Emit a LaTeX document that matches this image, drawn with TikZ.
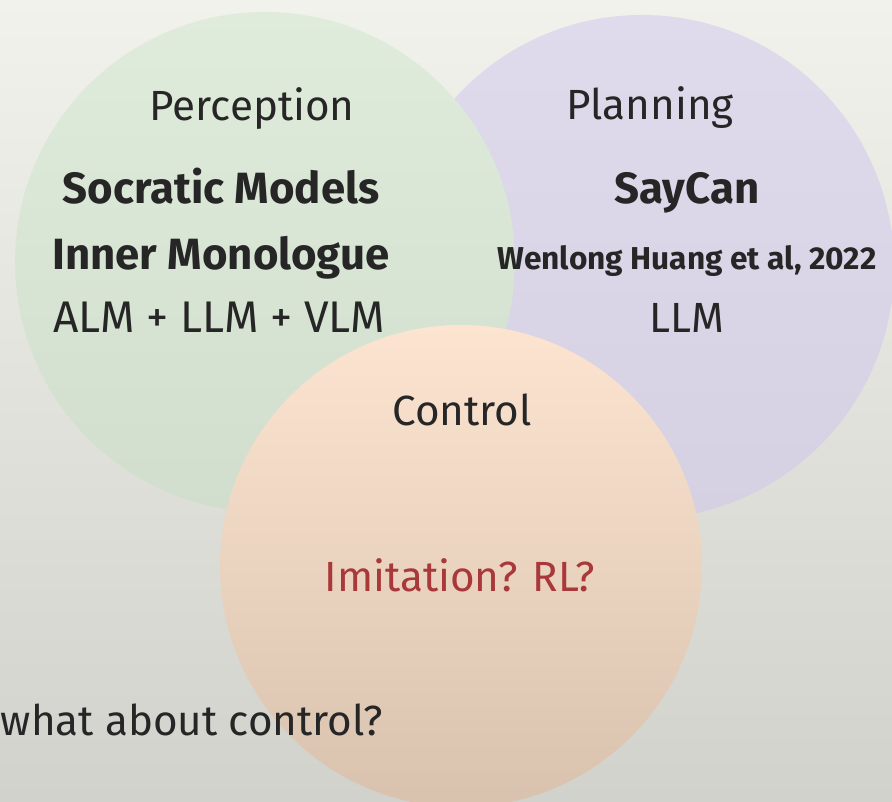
\documentclass[tikz,border=0pt]{standalone}
\usepackage{fontspec}
\setmainfont{Fira Sans}
\usetikzlibrary{positioning}

\definecolor{bgtop}{HTML}{F2F2EC}
\definecolor{bgbot}{HTML}{D2D2CD}
\definecolor{perctop}{HTML}{E0ECDB}
\definecolor{percbot}{HTML}{D2DECD}
\definecolor{plantop}{HTML}{DFDBEC}
\definecolor{planbot}{HTML}{D5D0E2}
\definecolor{ctrltop}{HTML}{FCE4D1}
\definecolor{ctrlbot}{HTML}{D8C2AD}
\definecolor{ink}{HTML}{262626}
\definecolor{askred}{HTML}{A8383A}

\tikzset{
  lbl/.style={anchor=base, inner sep=0pt, text=ink, font=\fontsize{40}{48}\selectfont},
  boldlbl/.style={lbl, font=\fontsize{41.5}{48}\selectfont\bfseries},
  smalllbl/.style={lbl, font=\fontsize{30}{34}\selectfont\bfseries}
}

\begin{document}
\begin{tikzpicture}
                \shade[top color=bgtop, bottom color=bgbot] (0,0) rectangle (29.733,26.7);
                \useasboundingbox (0,0) rectangle (29.733,26.7);
                % the three circles
                \shade[top color=plantop, bottom color=planbot] (21.4,17.8) circle(8.4);
                \shade[top color=perctop, bottom color=percbot] (8.833,17.967) circle(8.333);
                \shade[top color=ctrltop, bottom color=ctrlbot] (15.367,7.833) circle(8.033);
                % perception
                \node[lbl] (perc) at (8.4,22.67) {Perception};
                \node[boldlbl] (socratic) at (7.37,19.93) {Socratic Models};
                \node[boldlbl] (inner) at (7.37,17.7) {Inner Monologue};
                \node[lbl, font=\fontsize{42}{48}\selectfont] (alm) at (7.3,15.6) {ALM + LLM + VLM};
                % planning
                \node[lbl] (plan) at (21.67,22.7) {Planning};
                \node[boldlbl] (saycan) at (22.9,19.93) {SayCan};
                \node[smalllbl] (wenlong) at (22.9,17.7) {Wenlong Huang et al, 2022};
                \node[lbl] (llm) at (22.9,15.6) {LLM};
                % control
                \node[lbl] (ctrl) at (15.4,12.53) {Control};
                \node[lbl, text=askred] (imit) at (15.33,6.97) {Imitation? RL?};
                \node[lbl, anchor=base west] (what) at (0.02,2.17) {what about control?};
            \end{tikzpicture}
\end{document}
